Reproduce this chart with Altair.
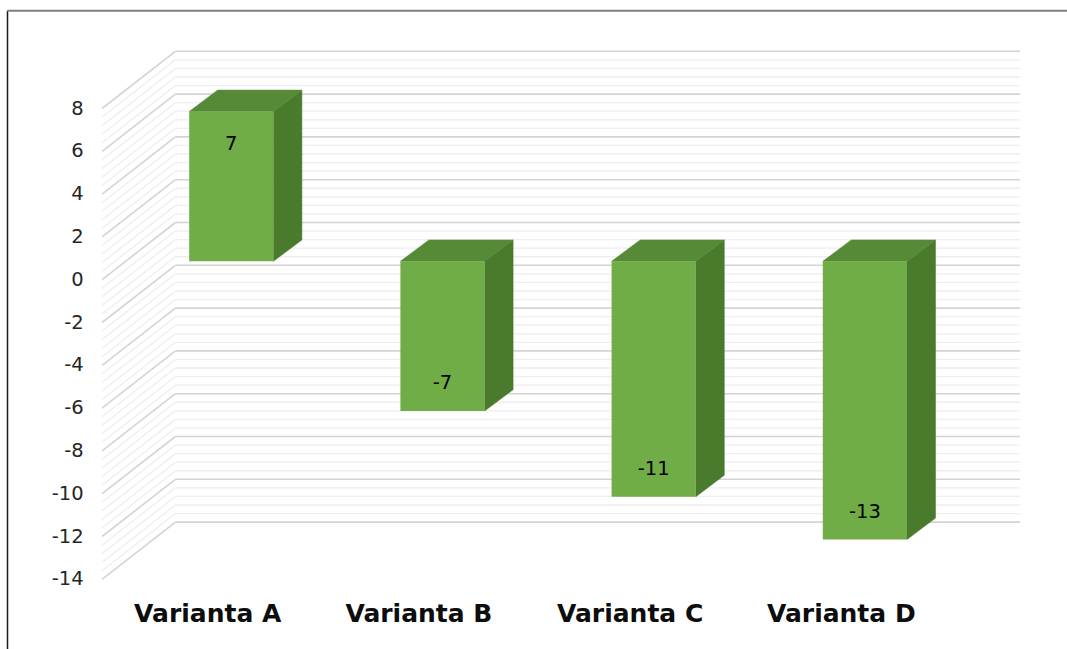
import altair as alt
import numpy as np
import pandas as pd

# ---- data -------------------------------------------------------------
categories = ["Varianta A", "Varianta B", "Varianta C", "Varianta D"]
values = [7, -7, -11, -13]
axis_ticks = [-14, -12, -10, -8, -6, -4, -2, 0, 2, 4, 6, 8]
axis_min, axis_max = -14, 8
major_step, minor_step = 2, 0.4

# ---- canvas and pseudo-3D projection ---------------------------------
W, H = 1067, 649
SLOT_PX = 211.2    # pixels per category slot
UNIT_PX = 21.4     # pixels per value unit
X_FIRST = 231.3    # pixel centre of the first bar's front face
Y_ZERO = 261.3     # pixel row of zero on the bar front plane


def sx(px):
    return px / SLOT_PX


def sy(px):
    return px / UNIT_PX


BAR_HALF = sx(42.1)
DEPTH_X, DEPTH_Y = sx(28.5), sy(21.4)      # bar depth
FRONT_X, FRONT_Y = sx(-23.6), sy(-18.4)    # front edge of the walls
BACK_X, BACK_Y = sx(49.7), sy(38.8)        # back wall

x_scale = alt.Scale(domain=[0.5 - X_FIRST / SLOT_PX, 0.5 + (W - X_FIRST) / SLOT_PX],
                    nice=False, zero=False)
y_scale = alt.Scale(domain=[(Y_ZERO - H) / UNIT_PX, Y_ZERO / UNIT_PX],
                    nice=False, zero=False)

n = len(categories)
FONT = "DejaVu Sans"


def as_label(v):
    # plain hyphen-minus, as in the spreadsheet labels
    return str(int(v)) if float(v).is_integer() else str(v)


# ---- gridlines on back wall and left side wall -------------------------
levels = np.round(np.arange(axis_min, axis_max + 1e-9, minor_step), 1)
grid = pd.DataFrame({"level": levels})
grid["major"] = np.isclose(grid["level"] / major_step, np.round(grid["level"] / major_step))
grid["bx"] = 0 + BACK_X
grid["bx2"] = n + BACK_X
grid["by"] = grid["level"] + BACK_Y
grid["fx"] = 0 + FRONT_X
grid["fy"] = grid["level"] + FRONT_Y


def grid_layers(is_major, color, width):
    g = grid[grid["major"] == is_major]
    back = alt.Chart(g).mark_rule(color=color, strokeWidth=width).encode(
        x=alt.X("bx:Q", scale=x_scale, axis=None),
        x2="bx2:Q",
        y=alt.Y("by:Q", scale=y_scale, axis=None),
        y2="by:Q",
    )
    side = alt.Chart(g).mark_rule(color=color, strokeWidth=width).encode(
        x=alt.X("fx:Q", scale=x_scale, axis=None),
        x2="bx:Q",
        y=alt.Y("fy:Q", scale=y_scale, axis=None),
        y2="by:Q",
    )
    return [back, side]


minor_layers = grid_layers(False, "#eeeeee", 1.3)
major_layers = grid_layers(True, "#d4d4d4", 1.6)

# ---- bars -------------------------------------------------------------
bars = pd.DataFrame({"cat": categories, "value": values})
bars["label"] = [as_label(v) for v in values]
bars["c"] = np.arange(n) + 0.5
bars["top"] = bars["value"].clip(lower=0)
bars["bottom"] = bars["value"].clip(upper=0)
bars["l"] = bars["c"] - BAR_HALF
bars["r"] = bars["c"] + BAR_HALF

front = alt.Chart(bars).mark_rect(color="#70ad47").encode(
    x=alt.X("l:Q", scale=x_scale, axis=None),
    x2="r:Q",
    y=alt.Y("top:Q", scale=y_scale, axis=None),
    y2="bottom:Q",
)

side_rows = []
top_rows = []
for _, b in bars.iterrows():
    side_rows.append({"cat": b["cat"], "x": b["r"], "lo": b["bottom"], "hi": b["top"]})
    side_rows.append({"cat": b["cat"], "x": b["r"] + DEPTH_X,
                      "lo": b["bottom"] + DEPTH_Y, "hi": b["top"] + DEPTH_Y})
    top_rows.append({"cat": b["cat"], "y": b["top"], "xl": b["l"], "xr": b["r"]})
    top_rows.append({"cat": b["cat"], "y": b["top"] + DEPTH_Y,
                     "xl": b["l"] + DEPTH_X, "xr": b["r"] + DEPTH_X})

side = alt.Chart(pd.DataFrame(side_rows)).mark_area(
    orient="vertical", color="#4a7a2c", stroke="#4a7a2c", strokeWidth=0.5
).encode(
    x=alt.X("x:Q", scale=x_scale, axis=None),
    y=alt.Y("lo:Q", scale=y_scale, axis=None),
    y2="hi:Q",
    detail="cat:N",
)

top = alt.Chart(pd.DataFrame(top_rows)).mark_area(
    orient="horizontal", color="#568a37", stroke="#568a37", strokeWidth=0.5
).encode(
    y=alt.Y("y:Q", scale=y_scale, axis=None),
    x=alt.X("xl:Q", scale=x_scale, axis=None),
    x2="xr:Q",
    detail="cat:N",
)

# ---- value labels inside the bar ends ---------------------------------
label_base = alt.Chart(bars)
pos_labels = label_base.transform_filter("datum.value >= 0").mark_text(
    font=FONT, fontSize=19.5, color="#000000", baseline="middle", dy=32
).encode(
    x=alt.X("c:Q", scale=x_scale, axis=None),
    y=alt.Y("value:Q", scale=y_scale, axis=None),
    text="label:N",
)
neg_labels = label_base.transform_filter("datum.value < 0").mark_text(
    font=FONT, fontSize=19.5, color="#000000", baseline="middle", dy=-28
).encode(
    x=alt.X("c:Q", scale=x_scale, axis=None),
    y=alt.Y("value:Q", scale=y_scale, axis=None),
    text="label:N",
)

# ---- value axis labels on the front edge --------------------------------
ticks = pd.DataFrame({"t": axis_ticks})
ticks["label"] = [as_label(t) for t in axis_ticks]
ticks["x"] = 0 + FRONT_X
ticks["y"] = ticks["t"] + FRONT_Y
tick_labels = alt.Chart(ticks).mark_text(
    font=FONT, fontSize=19.5, color="#262626", align="right", baseline="middle", dx=-18.5
).encode(
    x=alt.X("x:Q", scale=x_scale, axis=None),
    y=alt.Y("y:Q", scale=y_scale, axis=None),
    text="label:N",
)

# ---- category labels -----------------------------------------------------
cats = pd.DataFrame({"cat": categories})
cats["x"] = np.arange(n) + 0.5 + FRONT_X
cats["y"] = axis_min + FRONT_Y
cat_labels = alt.Chart(cats).mark_text(
    font=FONT, fontSize=25, fontWeight="bold", color="#0d0d0d", baseline="middle", dy=35
).encode(
    x=alt.X("x:Q", scale=x_scale, axis=None),
    y=alt.Y("y:Q", scale=y_scale, axis=None),
    text="cat:N",
)

# ---- frame lines ---------------------------------------------------------
frame_src = pd.DataFrame({"k": [0]})
frame_left = alt.Chart(frame_src).mark_rule(color="#1a1a1a", strokeWidth=1.5).encode(
    x=alt.value(7.5), y=alt.value(10.7), y2=alt.value(H)
)
frame_top = alt.Chart(frame_src).mark_rule(color="#808080", strokeWidth=2).encode(
    x=alt.value(7.5), x2=alt.value(W), y=alt.value(10.7)
)

chart = alt.layer(
    *minor_layers, *major_layers, side, top, front,
    pos_labels, neg_labels, tick_labels, cat_labels, frame_left, frame_top
).properties(
    width=W, height=H, padding=0, autosize=alt.AutoSizeParams(type="none"),
    background="white",
).configure_view(stroke=None)

chart.save("out.html", embed_options={"renderer": "svg", "actions": False})
